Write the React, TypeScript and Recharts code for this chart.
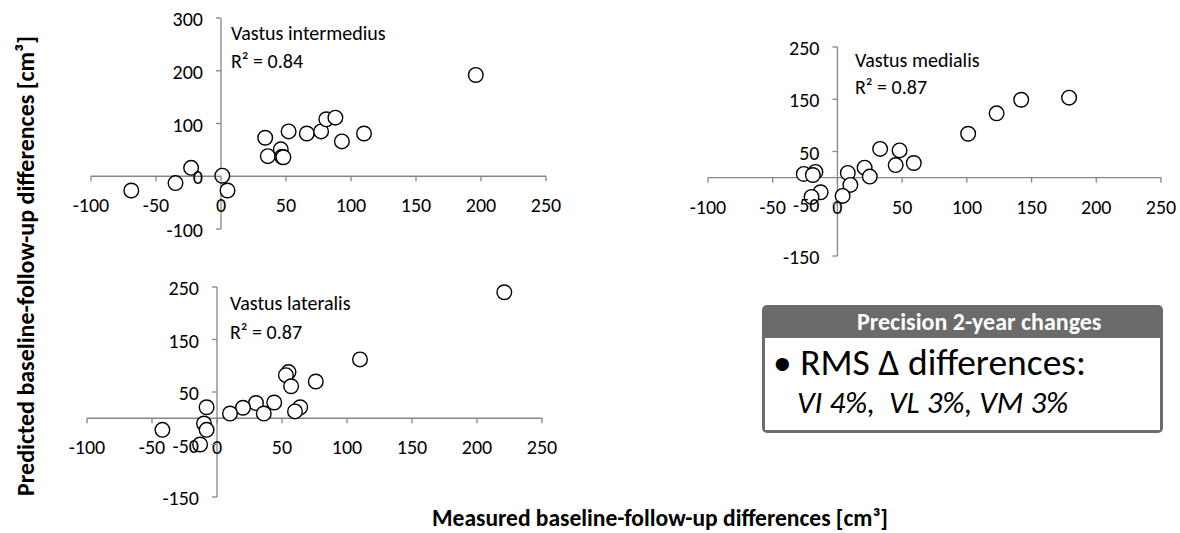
import React from 'react';
import { ScatterChart, Scatter, XAxis, YAxis, ReferenceLine } from 'recharts';

// ---- data ----
const xTicks = [-100, -50, 0, 50, 100, 150, 200, 250];
const yTicksVI = [-100, 0, 100, 200, 300];
const yTicksVMVL = [-150, -50, 50, 150, 250];

const viMeasured = [196, 34, 52, 66, 77, 81, 88, 93, 110, 36, 46, 47, 48, -23, 1, -35, -69, 5];
const viPredicted = [192, 73, 85, 81, 85, 108, 111, 66, 81, 38, 51, 37, 36, 16, 1, -13, -27, -27];

const vmMeasured = [179, 142, 123, 101, 33, 48, 59, 45, 21, 25, 8, 10, 4, -13, -20, -26, -17, -19];
const vmPredicted = [153, 149, 123, 84, 55, 52, 28, 24, 19, 2, 9, -14, -35, -28, -37, 7, 11, 5];

const vlMeasured = [221, 110, 76, 55, 53, 57, 64, 60, 44, 30, 20, 36, 10, -8, -10, -8, -13, -42];
const vlPredicted = [240, 112, 70, 88, 82, 61, 21, 13, 30, 29, 20, 9, 9, 21, -10, -22, -50, -22];

const titles = ['Vastus intermedius', 'Vastus medialis', 'Vastus lateralis'];
const r2Labels = ['R² = 0.84', 'R² = 0.87', 'R² = 0.87'];

const xTitle = 'Measured baseline-follow-up differences [cm³]';
const yTitle = 'Predicted baseline-follow-up differences [cm³]';
const boxHeader = 'Precision 2-year changes';
const boxLine1 = '• RMS Δ differences:';
const boxLine2 = 'VI 4%,  VL 3%, VM 3%';

const toPoints = (xs: number[], ys: number[]) => xs.map((x, i) => ({ x, y: ys[i] }));

// ---- layout / style ----
const W = 1180;
const H = 533;
const FONT = 'Carlito, Calibri, Lato, sans-serif';
const AXIS = '#868686';
const TICK_FS = 20;
const MARKER_R = 7.3;

type Panel = {
  data: { x: number; y: number }[];
  yTicks: number[];
  yDomain: [number, number];
  left: number;
  right: number;
  top: number;
  bottom: number;
};

const panels: Panel[] = [
  { data: toPoints(viMeasured, viPredicted), yTicks: yTicksVI, yDomain: [-100, 300], left: 91, right: 546, top: 18, bottom: 229 },
  { data: toPoints(vmMeasured, vmPredicted), yTicks: yTicksVMVL, yDomain: [-150, 250], left: 708, right: 1161, top: 47, bottom: 256 },
  { data: toPoints(vlMeasured, vlPredicted), yTicks: yTicksVMVL, yDomain: [-150, 250], left: 87, right: 542, top: 287, bottom: 497 },
];

const xDomain: [number, number] = [-100, 250];

const Marker = (props: any) => (
  <circle cx={props.cx} cy={props.cy} r={MARKER_R} fill="#fff" stroke="#000" strokeWidth={1.4} />
);

function PanelChart({ p }: { p: Panel }) {
  const y0 = p.top + ((p.yDomain[1] - 0) / (p.yDomain[1] - p.yDomain[0])) * (p.bottom - p.top);
  const x0 = p.left + ((0 - xDomain[0]) / (xDomain[1] - xDomain[0])) * (p.right - p.left);

  const XTick = (props: any) => {
    const { x, payload } = props;
    return (
      <g>
        <line x1={x} x2={x} y1={y0} y2={y0 + 5} stroke={AXIS} strokeWidth={1.3} />
        <text x={x} y={y0 + 29} textAnchor="middle" dominantBaseline="central" fontSize={TICK_FS} fontFamily={FONT} fill="#000">
          {payload.value}
        </text>
      </g>
    );
  };
  const YTick = (props: any) => {
    const { y, payload } = props;
    return (
      <g>
        <line x1={x0 - 5} x2={x0} y1={y} y2={y} stroke={AXIS} strokeWidth={1.3} />
        <text x={x0 - 18} y={y + 1} textAnchor="end" dominantBaseline="central" fontSize={TICK_FS} fontFamily={FONT} fill="#000">
          {payload.value}
        </text>
      </g>
    );
  };

  return (
    <div style={{ position: 'absolute', left: 0, top: 0, width: W, height: H }}>
      <ScatterChart
        width={W}
        height={H}
        margin={{ top: p.top, left: p.left - 1, right: W - p.right, bottom: H - p.bottom - 1 }}
      >
        <XAxis
          type="number"
          dataKey="x"
          domain={xDomain}
          ticks={xTicks}
          interval={0}
          axisLine={false}
          tickLine={false}
          tickSize={0}
          tickMargin={0}
          height={1}
          tick={XTick}
        />
        <YAxis
          type="number"
          dataKey="y"
          domain={p.yDomain}
          ticks={p.yTicks}
          interval={0}
          axisLine={false}
          tickLine={false}
          tickSize={0}
          tickMargin={0}
          width={1}
          tick={YTick}
        />
        <ReferenceLine y={0} stroke={AXIS} strokeWidth={1.3} />
        <ReferenceLine x={0} stroke={AXIS} strokeWidth={1.3} />
        <Scatter data={p.data} shape={Marker} isAnimationActive={false} />
      </ScatterChart>
    </div>
  );
}

const annot: React.CSSProperties = {
  position: 'absolute',
  fontFamily: FONT,
  fontSize: 20,
  color: '#000',
  whiteSpace: 'nowrap',
  transform: 'translateY(-50%)',
  lineHeight: 1,
};

export default function App() {
  return (
    <div style={{ position: 'absolute', left: 0, top: 0, width: W, height: H, background: '#fff', overflow: 'hidden' }}>
      {panels.map((p, i) => (
        <PanelChart key={i} p={p} />
      ))}

      <div style={{ ...annot, left: 231, top: 33 }}>{titles[0]}</div>
      <div style={{ ...annot, left: 231, top: 61 }}>{r2Labels[0]}</div>
      <div style={{ ...annot, left: 855, top: 60 }}>{titles[1]}</div>
      <div style={{ ...annot, left: 855, top: 87 }}>{r2Labels[1]}</div>
      <div style={{ ...annot, left: 230, top: 303 }}>{titles[2]}</div>
      <div style={{ ...annot, left: 230, top: 332 }}>{r2Labels[2]}</div>

      <div
        style={{
          position: 'absolute',
          left: 26,
          top: 266,
          transform: 'translate(-50%, -50%) rotate(-90deg)',
          fontFamily: FONT,
          fontWeight: 700,
          fontSize: 24,
          whiteSpace: 'nowrap',
          color: '#000',
          lineHeight: 1,
        }}
      >
        {yTitle}
      </div>
      <div
        style={{
          position: 'absolute',
          left: 660,
          top: 519,
          transform: 'translate(-50%, -50%)',
          fontFamily: FONT,
          fontWeight: 700,
          fontSize: 23.5,
          whiteSpace: 'nowrap',
          color: '#000',
          lineHeight: 1,
        }}
      >
        {xTitle}
      </div>

      <div
        style={{
          position: 'absolute',
          left: 762,
          top: 305,
          width: 401,
          height: 128,
          background: '#6b6b6b',
          borderRadius: 5,
          boxSizing: 'border-box',
        }}
      >
        <div
          style={{
            position: 'absolute',
            left: 3,
            right: 3,
            top: 33,
            bottom: 3,
            background: '#fff',
          }}
        />
        <div
          style={{
            position: 'absolute',
            left: 95,
            top: 17,
            transform: 'translateY(-50%)',
            fontFamily: FONT,
            fontWeight: 700,
            fontSize: 24,
            color: '#fff',
            whiteSpace: 'nowrap',
            lineHeight: 1,
          }}
        >
          {boxHeader}
        </div>
        <div
          style={{
            position: 'absolute',
            left: 11,
            top: 58,
            transform: 'translateY(-50%)',
            fontFamily: FONT,
            fontSize: 37.5,
            color: '#000',
            whiteSpace: 'pre',
            lineHeight: 0.85,
          }}
        >
          {boxLine1}
        </div>
        <div
          style={{
            position: 'absolute',
            left: 35,
            top: 97,
            transform: 'translateY(-50%)',
            fontFamily: FONT,
            fontSize: 31,
            fontStyle: 'italic',
            color: '#000',
            whiteSpace: 'pre',
            lineHeight: 0.85,
          }}
        >
          {boxLine2}
        </div>
      </div>
    </div>
  );
}
